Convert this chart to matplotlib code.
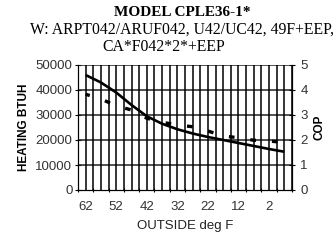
import numpy as np
import matplotlib
matplotlib.use("Agg")
import matplotlib.pyplot as plt

# data
temps = [62, 57, 52, 47, 42, 37, 32, 27, 22, 17, 12, 7, 2, -3]
heating = [46000, 43000, 39000, 34000, 29500, 26500, 24300, 22600,
           21200, 20000, 18800, 17600, 16400, 15300]
cop = [3.83, 3.64, 3.37, 3.2, 2.87, 2.71, 2.6, 2.53, 2.36, 2.16,
       2.09, 1.99, 1.96, 1.9]
title_lines = ["MODEL CPLE36-1*",
               "W: ARPT042/ARUF042, U42/UC42, 49F+EEP,",
               "CA*F042*2*+EEP"]

W, H = 335, 246
fig = plt.figure(figsize=(W / 100, H / 100), dpi=100)
ax = fig.add_axes([78 / W, 1 - 190 / H, (292 - 78) / W, (190 - 65) / H])
ax2 = ax.twinx()
ax2.patch.set_visible(False)

x = np.arange(len(temps))
ax.plot(x, heating, color="black", lw=1.9, solid_capstyle="butt", zorder=5)
ax2.plot(x, cop, color="black", lw=2.4, linestyle=(0.4, (1.7, 4.8)), zorder=5)

ax.set_xlim(-0.5, len(temps) - 0.5)
ax.set_ylim(0, 50000)
ax2.set_ylim(0, 5)
ax.set_yticks(range(0, 50001, 10000))
ax2.set_yticks(range(0, 6))

# grid: horizontal at major y, vertical every half category
ax.hlines(range(10000, 50001, 10000), -0.5, len(temps) - 0.5,
          colors="#222222", lw=1.1, zorder=2)
ax.vlines(np.arange(0, len(temps) - 0.49, 0.5), 0, 50000,
          colors="black", lw=1.1, zorder=2)

ax.set_xticks(np.arange(-0.5, len(temps), 1.0))
ax.set_xticklabels([])
ax.set_xticks(x[::2], minor=True)
ax.set_xticklabels([str(t) for t in temps[::2]], minor=True)
ax.tick_params(axis="x", which="major", length=3, direction="inout", width=0.8)
ax.tick_params(axis="x", which="minor", length=0, pad=8, labelsize=9.5,
               labelcolor="#333333")
ax.tick_params(axis="y", length=4, direction="inout", width=0.8, labelsize=9.5,
               labelcolor="#333333", pad=2)
ax2.tick_params(axis="y", length=4, direction="inout", width=0.8, labelsize=9.5,
                labelcolor="#333333", pad=4)

for a in (ax, ax2):
    for s in a.spines.values():
        s.set_linewidth(0.8)
    a.spines["top"].set_visible(False)

for lab in ax.get_xticklabels(minor=True) + ax.get_yticklabels() + ax2.get_yticklabels():
    lab.set_fontfamily("Liberation Sans")

ax.set_xlabel("OUTSIDE deg F", fontfamily="Liberation Sans", fontsize=9.5,
              labelpad=5, color="#222222")
ax.set_ylabel("HEATING BTUH", fontfamily="Liberation Sans", fontsize=8.5,
              fontweight="bold", labelpad=4)
ax2.set_ylabel("COP", fontfamily="Liberation Sans", fontsize=8.5,
               fontweight="bold", labelpad=4)

fig.text(182 / W, 1 - 12 / H, title_lines[0], ha="center", va="center",
         fontfamily="Liberation Serif", fontweight="bold", fontsize=11)
fig.text(182 / W, 1 - 30 / H, title_lines[1], ha="center", va="center",
         fontfamily="Liberation Serif", fontsize=11.3)
fig.text(164 / W, 1 - 47 / H, title_lines[2], ha="center", va="center",
         fontfamily="Liberation Serif", fontsize=11.3)

fig.savefig("out.png", dpi=100)
